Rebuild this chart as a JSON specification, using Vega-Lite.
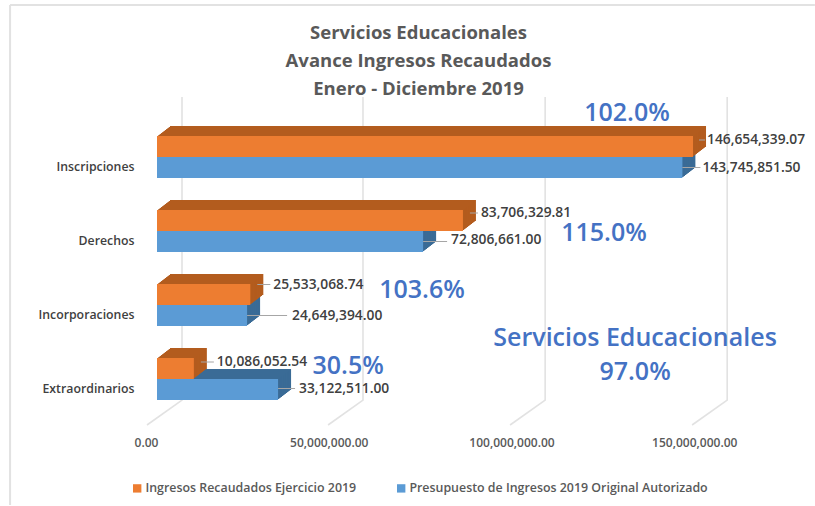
{"$schema":"https://vega.github.io/schema/vega-lite/v6.json","width":815,"height":406,"autosize":"none","padding":{"left":0,"top":100,"right":0,"bottom":0},"background":"white","view":{"stroke":null},
"title":{"text":["Servicios Educacionales","Avance Ingresos Recaudados","Enero - Diciembre 2019"],"font":"Open Sans","fontSize":18.5,"fontWeight":700,"color":"#595959","lineHeight":28,"dx":11,"offset":-95},
"datasets":{
"ingresos":[{"categoria":"Inscripciones","serie":"Ingresos Recaudados Ejercicio 2019","valor":146654339.07},{"categoria":"Derechos","serie":"Ingresos Recaudados Ejercicio 2019","valor":83706329.81},{"categoria":"Incorporaciones","serie":"Ingresos Recaudados Ejercicio 2019","valor":25533068.74},{"categoria":"Extraordinarios","serie":"Ingresos Recaudados Ejercicio 2019","valor":10086052.54}],
"presupuesto":[{"categoria":"Inscripciones","serie":"Presupuesto de Ingresos 2019 Original Autorizado","valor":143745851.50},{"categoria":"Derechos","serie":"Presupuesto de Ingresos 2019 Original Autorizado","valor":72806661.00},{"categoria":"Incorporaciones","serie":"Presupuesto de Ingresos 2019 Original Autorizado","valor":24649394.00},{"categoria":"Extraordinarios","serie":"Presupuesto de Ingresos 2019 Original Autorizado","valor":33122511.00}],
"rejilla":[{"tick":"0","valor":-2740000,"nivel":0},{"tick":"0","valor":6840000,"nivel":7.6},{"tick":"0","valor":6840000,"nivel":100},
{"tick":"50M","valor":46800000,"nivel":0},{"tick":"50M","valor":56360000,"nivel":7.6},{"tick":"50M","valor":56360000,"nivel":100},
{"tick":"100M","valor":96600000,"nivel":0},{"tick":"100M","valor":106200000,"nivel":7.6},{"tick":"100M","valor":106200000,"nivel":100},
{"tick":"150M","valor":146400000,"nivel":0},{"tick":"150M","valor":156000000,"nivel":7.6},{"tick":"150M","valor":156000000,"nivel":100}]},
"resolve":{"scale":{"y":"independent"}},
"layer":[
{"data":{"values":[{"borde":"izquierdo"}]},"mark":{"type":"rule","color":"#e2e2e2","strokeWidth":2},"encoding":{"x":{"datum":-40200000,"type":"quantitative"},"y":{"datum":128.05,"type":"quantitative","scale":{"domain":[0,100],"range":[325,-3],"nice":false,"zero":false},"axis":null},"y2":{"datum":-24.4}}},
{"data":{"values":[{"borde":"superior"}]},"mark":{"type":"rule","color":"#e2e2e2","strokeWidth":2},"encoding":{"x":{"datum":-40200000,"type":"quantitative"},"x2":{"datum":180000000},"y":{"datum":128.05,"type":"quantitative","scale":{"domain":[0,100],"range":[325,-3],"nice":false,"zero":false},"axis":null}}},
{"data":{"name":"rejilla"},"mark":{"type":"line","color":"#e2e2e2","strokeWidth":1.6},
"encoding":{"x":{"field":"valor","type":"quantitative","scale":{"domain":[-42954856,180027360],"range":[0,815],"nice":false,"zero":false},
"axis":{"values":[0,50000000,100000000,150000000],"format":",.2f","orient":"bottom","grid":false,"domain":false,"ticks":false,"offset":-69,"labelOffset":-11,"labelFont":"Open Sans","labelFontSize":12,"labelFontWeight":600,"labelColor":"#595959","title":null,"labelPadding":0}},
"y":{"field":"nivel","type":"quantitative","scale":{"domain":[0,100],"range":[325,-3],"nice":false,"zero":false},"axis":null},"detail":{"field":"tick"},"order":{"field":"nivel"}}},
{"encoding":{"x":{"field":"valor","type":"quantitative","stack":null,"scale":{"domain":[-42954856,180027360],"range":[0,815],"nice":false,"zero":false}},
"y":{"field":"categoria","type":"nominal","sort":["Inscripciones","Derechos","Incorporaciones","Extraordinarios"],"scale":{"domain":["Inscripciones","Derechos","Incorporaciones","Extraordinarios"],"range":[20,316],"paddingInner":0.432,"paddingOuter":0.216},
"axis":{"title":null,"domain":false,"ticks":false,"grid":false,"offset":-134,"labelPadding":0,"labelOffset":10,"labelFont":"Open Sans","labelFontSize":12.3,"labelFontWeight":600,"labelColor":"#404040"}}},
"layer":[
{"data":{"name":"presupuesto"},"mark":{"type":"bar","height":21,"color":"#3a6b96","xOffset":13,"x2Offset":13,"yOffset":0.5},"encoding":{"x2":{"datum":0}}},
{"data":{"name":"presupuesto"},"mark":{"type":"bar","height":21,"color":"#3a6b96","xOffset":11.7,"x2Offset":11.7,"yOffset":1.5},"encoding":{"x2":{"datum":0}}},
{"data":{"name":"presupuesto"},"mark":{"type":"bar","height":21,"color":"#3a6b96","xOffset":10.4,"x2Offset":10.4,"yOffset":2.5},"encoding":{"x2":{"datum":0}}},
{"data":{"name":"presupuesto"},"mark":{"type":"bar","height":21,"color":"#3a6b96","xOffset":9.1,"x2Offset":9.1,"yOffset":3.5},"encoding":{"x2":{"datum":0}}},
{"data":{"name":"presupuesto"},"mark":{"type":"bar","height":21,"color":"#3a6b96","xOffset":7.8,"x2Offset":7.8,"yOffset":4.5},"encoding":{"x2":{"datum":0}}},
{"data":{"name":"presupuesto"},"mark":{"type":"bar","height":21,"color":"#3a6b96","xOffset":6.5,"x2Offset":6.5,"yOffset":5.5},"encoding":{"x2":{"datum":0}}},
{"data":{"name":"presupuesto"},"mark":{"type":"bar","height":21,"color":"#3a6b96","xOffset":5.2,"x2Offset":5.2,"yOffset":6.5},"encoding":{"x2":{"datum":0}}},
{"data":{"name":"presupuesto"},"mark":{"type":"bar","height":21,"color":"#3a6b96","xOffset":3.9,"x2Offset":3.9,"yOffset":7.5},"encoding":{"x2":{"datum":0}}},
{"data":{"name":"presupuesto"},"mark":{"type":"bar","height":21,"color":"#3a6b96","xOffset":2.6,"x2Offset":2.6,"yOffset":8.5},"encoding":{"x2":{"datum":0}}},
{"data":{"name":"presupuesto"},"mark":{"type":"bar","height":21,"color":"#3a6b96","xOffset":1.3,"x2Offset":1.3,"yOffset":9.5},"encoding":{"x2":{"datum":0}}},
{"data":{"name":"ingresos"},"mark":{"type":"bar","height":21,"color":"#b35c1e","xOffset":13,"x2Offset":13,"yOffset":-20.5},"encoding":{"x2":{"datum":0}}},
{"data":{"name":"ingresos"},"mark":{"type":"bar","height":21,"color":"#b35c1e","xOffset":11.7,"x2Offset":11.7,"yOffset":-19.5},"encoding":{"x2":{"datum":0}}},
{"data":{"name":"ingresos"},"mark":{"type":"bar","height":21,"color":"#b35c1e","xOffset":10.4,"x2Offset":10.4,"yOffset":-18.5},"encoding":{"x2":{"datum":0}}},
{"data":{"name":"ingresos"},"mark":{"type":"bar","height":21,"color":"#b35c1e","xOffset":9.1,"x2Offset":9.1,"yOffset":-17.5},"encoding":{"x2":{"datum":0}}},
{"data":{"name":"ingresos"},"mark":{"type":"bar","height":21,"color":"#b35c1e","xOffset":7.8,"x2Offset":7.8,"yOffset":-16.5},"encoding":{"x2":{"datum":0}}},
{"data":{"name":"ingresos"},"mark":{"type":"bar","height":21,"color":"#b35c1e","xOffset":6.5,"x2Offset":6.5,"yOffset":-15.5},"encoding":{"x2":{"datum":0}}},
{"data":{"name":"ingresos"},"mark":{"type":"bar","height":21,"color":"#b35c1e","xOffset":5.2,"x2Offset":5.2,"yOffset":-14.5},"encoding":{"x2":{"datum":0}}},
{"data":{"name":"ingresos"},"mark":{"type":"bar","height":21,"color":"#b35c1e","xOffset":3.9,"x2Offset":3.9,"yOffset":-13.5},"encoding":{"x2":{"datum":0}}},
{"data":{"name":"ingresos"},"mark":{"type":"bar","height":21,"color":"#b35c1e","xOffset":2.6,"x2Offset":2.6,"yOffset":-12.5},"encoding":{"x2":{"datum":0}}},
{"data":{"name":"ingresos"},"mark":{"type":"bar","height":21,"color":"#b35c1e","xOffset":1.3,"x2Offset":1.3,"yOffset":-11.5},"encoding":{"x2":{"datum":0}}},
{"data":{"name":"ingresos"},"mark":{"type":"bar","height":21,"yOffset":-10.5},"encoding":{"color":{"field":"serie","type":"nominal","scale":{"domain":["Ingresos Recaudados Ejercicio 2019","Presupuesto de Ingresos 2019 Original Autorizado"],"range":["#ed7d31","#5b9bd5"]},"legend":{"title":null,"orient":"none","legendX":131,"legendY":382,"direction":"horizontal","columns":2,"symbolType":"square","symbolSize":70,"symbolStrokeWidth":0,"labelFont":"Open Sans","labelFontSize":12.4,"labelFontWeight":600,"labelColor":"#595959","labelLimit":340,"labelOffset":2,"columnPadding":38}}}},
{"data":{"name":"presupuesto"},"mark":{"type":"bar","height":21,"yOffset":10.5},"encoding":{"color":{"field":"serie","type":"nominal"}}},
{"data":{"name":"presupuesto"},"transform":[{"filter":"datum.categoria==='Inscripciones'"}],"mark":{"type":"rule","color":"#a6a6a6","yOffset":10.5,"x2Offset":18},"encoding":{"x2":{"field":"valor"}}},
{"data":{"name":"presupuesto"},"transform":[{"filter":"datum.categoria==='Derechos'"}],"mark":{"type":"rule","color":"#a6a6a6","yOffset":10.5,"x2Offset":24},"encoding":{"x2":{"field":"valor"}}},
{"data":{"name":"presupuesto"},"transform":[{"filter":"datum.categoria==='Incorporaciones'"}],"mark":{"type":"rule","color":"#a6a6a6","yOffset":10.5,"x2Offset":40},"encoding":{"x2":{"field":"valor"}}},
{"data":{"name":"presupuesto"},"transform":[{"filter":"datum.categoria==='Extraordinarios'"}],"mark":{"type":"rule","color":"#a6a6a6","yOffset":9.5,"x2Offset":17},"encoding":{"x2":{"field":"valor"}}},
{"data":{"name":"ingresos"},"transform":[{"filter":"datum.categoria==='Inscripciones'"}],"mark":{"type":"rule","color":"#a6a6a6","xOffset":6,"x2Offset":12,"yOffset":-17},"encoding":{"x2":{"field":"valor"}}},
{"data":{"name":"ingresos"},"transform":[{"filter":"datum.categoria==='Derechos'"}],"mark":{"type":"rule","color":"#a6a6a6","xOffset":7,"x2Offset":15,"yOffset":-18},"encoding":{"x2":{"field":"valor"}}},
{"data":{"name":"ingresos"},"transform":[{"filter":"datum.categoria==='Incorporaciones'"}],"mark":{"type":"rule","color":"#a6a6a6","xOffset":7,"x2Offset":20,"yOffset":-20.5},"encoding":{"x2":{"field":"valor"}}},
{"data":{"name":"ingresos"},"transform":[{"filter":"datum.categoria==='Extraordinarios'"}],"mark":{"type":"rule","color":"#a6a6a6","xOffset":7,"x2Offset":20,"yOffset":-17},"encoding":{"x2":{"field":"valor"}}},
{"data":{"name":"ingresos"},"transform":[{"filter":"datum.categoria==='Inscripciones'"}],"mark":{"type":"text","align":"left","dx":14,"dy":-17,"font":"Open Sans","fontSize":13.8,"fontWeight":600,"color":"#404040"},"encoding":{"text":{"field":"valor","type":"quantitative","format":",.2f"}}},
{"data":{"name":"ingresos"},"transform":[{"filter":"datum.categoria==='Derechos'"}],"mark":{"type":"text","align":"left","dx":18,"dy":-18,"font":"Open Sans","fontSize":13.8,"fontWeight":600,"color":"#404040"},"encoding":{"text":{"field":"valor","type":"quantitative","format":",.2f"}}},
{"data":{"name":"ingresos"},"transform":[{"filter":"datum.categoria==='Incorporaciones'"}],"mark":{"type":"text","align":"left","dx":23,"dy":-20.5,"font":"Open Sans","fontSize":13.8,"fontWeight":600,"color":"#404040"},"encoding":{"text":{"field":"valor","type":"quantitative","format":",.2f"}}},
{"data":{"name":"ingresos"},"transform":[{"filter":"datum.categoria==='Extraordinarios'"}],"mark":{"type":"text","align":"left","dx":23,"dy":-17,"font":"Open Sans","fontSize":13.8,"fontWeight":600,"color":"#404040"},"encoding":{"text":{"field":"valor","type":"quantitative","format":",.2f"}}},
{"data":{"name":"presupuesto"},"transform":[{"filter":"datum.categoria==='Inscripciones'"}],"mark":{"type":"text","align":"left","dx":20,"dy":10.5,"font":"Open Sans","fontSize":13.8,"fontWeight":600,"color":"#404040"},"encoding":{"text":{"field":"valor","type":"quantitative","format":",.2f"}}},
{"data":{"name":"presupuesto"},"transform":[{"filter":"datum.categoria==='Derechos'"}],"mark":{"type":"text","align":"left","dx":28,"dy":9,"font":"Open Sans","fontSize":13.8,"fontWeight":600,"color":"#404040"},"encoding":{"text":{"field":"valor","type":"quantitative","format":",.2f"}}},
{"data":{"name":"presupuesto"},"transform":[{"filter":"datum.categoria==='Incorporaciones'"}],"mark":{"type":"text","align":"left","dx":45,"dy":10.5,"font":"Open Sans","fontSize":13.8,"fontWeight":600,"color":"#404040"},"encoding":{"text":{"field":"valor","type":"quantitative","format":",.2f"}}},
{"data":{"name":"presupuesto"},"transform":[{"filter":"datum.categoria==='Extraordinarios'"}],"mark":{"type":"text","align":"left","dx":21,"dy":9.5,"font":"Open Sans","fontSize":13.8,"fontWeight":600,"color":"#404040"},"encoding":{"text":{"field":"valor","type":"quantitative","format":",.2f"}}}
]},
{"data":{"values":[{"texto":"102.0%"}]},"mark":{"type":"text","font":"Open Sans","fontSize":25,"fontWeight":600,"color":"#4472c4"},"encoding":{"text":{"field":"texto"},"x":{"datum":128600000,"type":"quantitative"},"y":{"datum":95,"type":"quantitative","scale":{"domain":[0,100],"range":[325,-3],"nice":false,"zero":false},"axis":null}}},
{"data":{"values":[{"texto":"115.0%"}]},"mark":{"type":"text","font":"Open Sans","fontSize":25,"fontWeight":600,"color":"#4472c4"},"encoding":{"text":{"field":"texto"},"x":{"datum":122300000,"type":"quantitative"},"y":{"datum":58.5,"type":"quantitative","scale":{"domain":[0,100],"range":[325,-3],"nice":false,"zero":false},"axis":null}}},
{"data":{"values":[{"texto":"103.6%"}]},"mark":{"type":"text","font":"Open Sans","fontSize":25,"fontWeight":600,"color":"#4472c4"},"encoding":{"text":{"field":"texto"},"x":{"datum":72500000,"type":"quantitative"},"y":{"datum":41.2,"type":"quantitative","scale":{"domain":[0,100],"range":[325,-3],"nice":false,"zero":false},"axis":null}}},
{"data":{"values":[{"texto":"30.5%"}]},"mark":{"type":"text","font":"Open Sans","fontSize":25,"fontWeight":600,"color":"#4472c4"},"encoding":{"text":{"field":"texto"},"x":{"datum":52300000,"type":"quantitative"},"y":{"datum":18,"type":"quantitative","scale":{"domain":[0,100],"range":[325,-3],"nice":false,"zero":false},"axis":null}}},
{"data":{"values":[{"texto":"Servicios Educacionales"}]},"mark":{"type":"text","font":"Open Sans","fontSize":25,"fontWeight":600,"color":"#4472c4"},"encoding":{"text":{"field":"texto"},"x":{"datum":130800000,"type":"quantitative"},"y":{"datum":26.5,"type":"quantitative","scale":{"domain":[0,100],"range":[325,-3],"nice":false,"zero":false},"axis":null}}},
{"data":{"values":[{"texto":"97.0%"}]},"mark":{"type":"text","font":"Open Sans","fontSize":25,"fontWeight":600,"color":"#4472c4"},"encoding":{"text":{"field":"texto"},"x":{"datum":130800000,"type":"quantitative"},"y":{"datum":16.2,"type":"quantitative","scale":{"domain":[0,100],"range":[325,-3],"nice":false,"zero":false},"axis":null}}}
]}
